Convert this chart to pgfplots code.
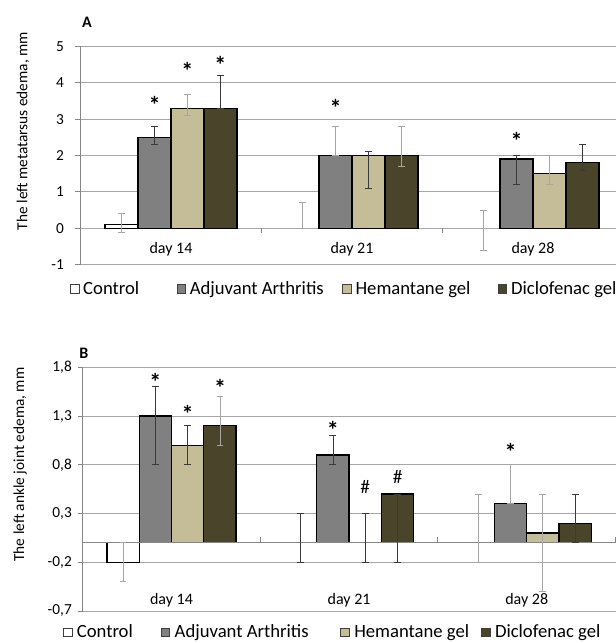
\documentclass[border=0pt]{standalone}
\usepackage{pgfplots}
\pgfplotsset{compat=1.18}
\usepackage{fontspec}
\setmainfont{Carlito}
\definecolor{cAA}{HTML}{808080}
\definecolor{cHem}{HTML}{C4BD97}
\definecolor{cDic}{HTML}{4A452A}
\definecolor{gridc}{HTML}{A6A6A6}
\definecolor{errL}{HTML}{A6A6A6}
\definecolor{errD}{HTML}{3A3A3A}
\definecolor{axisgray}{HTML}{868686}

\tikzset{
  astnode/.style={font=\bfseries\fontsize{18}{18}\selectfont, anchor=north, inner sep=0pt},
  hashnode/.style={font=\fontsize{14.5}{14.5}\selectfont, anchor=center, inner sep=0pt},
}

\pgfplotsset{
  mybase/.style={
    scale only axis, clip=false,
    xmin=-0.5, xmax=2.5,
    xtick={0,1,2}, xticklabels={day 14,day 21,day 28},
    xtick align=inside,
    x tick style={draw=none},
    ytick align=outside,
    major tick length=3.75pt,
    y tick style={axisgray, line width=0.75pt},
    axis x line*=bottom, axis y line*=left,
    axis line style={-},
    x axis line style={gridc, line width=0.75pt},
    y axis line style={axisgray, line width=0.75pt},
    ymajorgrids, grid style={gridc, line width=0.75pt},
    /pgf/number format/assume math mode=true,
    yticklabel style={font=\fontsize{11.5}{13}\selectfont, anchor=east, inner sep=0pt},
    ylabel style={anchor=center, font=\fontsize{11.5}{13}\selectfont},
    legend columns=4,
    legend image code/.code={\draw[#1, draw=black!75, line width=0.5pt] (0pt,-3.2pt) rectangle (6.4pt,3.2pt);},
  },
  mybar/.style={ybar, bar width=0.182, bar shift=#1, draw=black, line width=1pt},
  ebL/.style={forget plot, draw=none,
    error bars/.cd, y dir=both, y explicit, error mark=-,
    error bar style={draw=errL, line width=0.6pt},
    error mark options={rotate=90, draw=errL, line width=0.6pt, mark size=2.6pt}},
  ebD/.style={forget plot, draw=none,
    error bars/.cd, y dir=both, y explicit, error mark=-,
    error bar style={draw=errD, line width=0.6pt},
    error mark options={rotate=90, draw=errD, line width=0.6pt, mark size=2.6pt}},
}

\begin{document}
\begin{tikzpicture}
\useasboundingbox (0,0) rectangle (462pt,482.25pt);

% ---------------- Panel A ----------------
\begin{axis}[mybase,
  at={(60.375pt,283.725pt)}, anchor=south west,
  width=407.25pt, height=163.8pt,
  ymin=-1, ymax=5, ytick={-1,0,1,2,3,4,5},
  yticklabel style={xshift=-8.5pt},
  xticklabel style={font=\fontsize{12}{14}\selectfont, anchor=center, inner sep=0pt, yshift=11.25pt},
  ylabel={The left metatarsus edema, mm},
  ylabel style={at={(axis description cs:-0.106,0.612)}},
  legend style={at={(axis description cs:-0.0193,-0.111)}, anchor=west,
    draw=none, fill=none, inner sep=0pt, outer sep=0pt,
    font=\fontsize{14}{16}\selectfont,
    nodes={inner sep=0pt}, column sep=3pt,
    /tikz/column 2/.style={column sep=28pt},
    /tikz/column 4/.style={column sep=14pt},
    /tikz/column 6/.style={column sep=20.6pt}},
]
\addplot[mybar=-0.273, fill=white] coordinates {(0,0.1)};
\addlegendentry{Control}
\addplot[mybar=-0.091, fill=cAA] coordinates {(0,2.5) (1,2.0) (2,1.9)};
\addlegendentry{Adjuvant Arthritis}
\addplot[mybar=0.091, fill=cHem] coordinates {(0,3.3) (1,2.0) (2,1.5)};
\addlegendentry{Hemantane gel}
\addplot[mybar=0.273, fill=cDic] coordinates {(0,3.3) (1,2.0) (2,1.8)};
\addlegendentry{Diclofenac gel}

\addplot[ebL] coordinates {
  (-0.273,0.1) += (0,0.3) -= (0,0.2)
  (0.091,3.3) += (0,0.38) -= (0,0.2)
  (0.727,0) += (0,0.7) -= (0,0)
  (0.909,2.0) += (0,0.8) -= (0,0)
  (1.273,2.0) += (0,0.8) -= (0,0.3)
  (1.727,-0.05) += (0,0.55) -= (0,0.55)
  (2.091,1.5) += (0,0.5) -= (0,0.3)
};
\addplot[ebD] coordinates {
  (-0.091,2.5) += (0,0.3) -= (0,0.2)
  (0.273,3.3) += (0,0.9) -= (0,0)
  (1.091,2.0) += (0,0.1) -= (0,0.9)
  (1.909,1.9) += (0,0.1) -= (0,0.7)
  (2.273,1.8) += (0,0.5) -= (0,0.2)
};

\draw[axisgray, line width=0.75pt] (axis cs:0.5,0) -- ++(0pt,-3.75pt);
\draw[axisgray, line width=0.75pt] (axis cs:1.5,0) -- ++(0pt,-3.75pt);

\node[astnode] at (axis cs:-0.091,3.63) {*};
\node[astnode] at (axis cs:0.091,4.56) {*};
\node[astnode] at (axis cs:0.273,4.74) {*};
\node[astnode] at (axis cs:0.909,3.54) {*};
\node[astnode] at (axis cs:1.909,2.65) {*};

\node[font=\bfseries\fontsize{12}{14}\selectfont] at (axis description cs:0.012,1.111) {A};
\end{axis}

% ---------------- Panel B ----------------
\begin{axis}[mybase,
  at={(62.03pt,24pt)}, anchor=south west,
  width=399.6pt, height=182.78pt,
  ymin=-0.7, ymax=1.8, ytick={-0.7,-0.2,0.3,0.8,1.3,1.8},
  yticklabel style={xshift=-4.25pt, /pgf/number format/.cd, fixed, fixed zerofill, precision=1, use comma},
  xticklabel style={font=\fontsize{12}{14}\selectfont, anchor=center, inner sep=0pt, yshift=8.25pt},
  ylabel={The left ankle joint edema, mm},
  ylabel style={at={(axis description cs:-0.1177,0.601)}},
  legend style={at={(axis description cs:-0.037,-0.087)}, anchor=west,
    draw=none, fill=none, inner sep=0pt, outer sep=0pt,
    font=\fontsize{14}{16}\selectfont,
    nodes={inner sep=0pt}, column sep=3.5pt,
    /tikz/column 2/.style={column sep=21pt},
    /tikz/column 4/.style={column sep=23.8pt},
    /tikz/column 6/.style={column sep=9pt}},
]
\addplot[mybar=-0.273, fill=white] coordinates {(0,-0.2)};
\addlegendentry{Control}
\addplot[mybar=-0.091, fill=cAA] coordinates {(0,1.3) (1,0.9) (2,0.4)};
\addlegendentry{Adjuvant Arthritis}
\addplot[mybar=0.091, fill=cHem] coordinates {(0,1.0) (2,0.1)};
\addlegendentry{Hemantane gel}
\addplot[mybar=0.273, fill=cDic] coordinates {(0,1.2) (1,0.5) (2,0.2)};
\addlegendentry{Diclofenac gel}

\draw[axisgray, line width=0.75pt] (axis cs:-0.5,0) -- (axis cs:2.5,0);
\draw[axisgray, line width=0.75pt] (axis cs:0.5,0) -- ++(0pt,4.5pt);
\draw[axisgray, line width=0.75pt] (axis cs:1.5,0) -- ++(0pt,4.5pt);
\draw[axisgray, line width=0.75pt] (axis cs:2.5,0) -- ++(0pt,4.5pt);

\addplot[ebL] coordinates {
  (-0.273,-0.2) += (0,0.2) -= (0,0.2)
  (0.273,1.2) += (0,0.3) -= (0,0.2)
  (1.727,0) += (0,0.5) -= (0,0.2)
  (1.909,0.4) += (0,0.4) -= (0,0)
  (2.091,0.1) += (0,0.4) -= (0,0.6)
};
\addplot[ebD] coordinates {
  (-0.091,1.3) += (0,0.3) -= (0,0.5)
  (0.091,1.0) += (0,0.2) -= (0,0.2)
  (0.727,0) += (0,0.3) -= (0,0.2)
  (0.909,0.9) += (0,0.2) -= (0,0.1)
  (1.091,0) += (0,0.3) -= (0,0.2)
  (1.273,0.5) += (0,0) -= (0,0.7)
  (2.273,0.2) += (0,0.3) -= (0,0.2)
};

\node[astnode] at (axis cs:-0.091,1.74) {*};
\node[astnode] at (axis cs:0.091,1.41) {*};
\node[astnode] at (axis cs:0.273,1.68) {*};
\node[astnode] at (axis cs:0.909,1.25) {*};
\node[astnode] at (axis cs:1.909,1.02) {*};
\node[hashnode] at (axis cs:1.091,0.57) {\#};
\node[hashnode] at (axis cs:1.273,0.68) {\#};

\node[font=\bfseries\fontsize{12}{14}\selectfont] at (axis description cs:0.0024,1.0587) {B};
\end{axis}
\end{tikzpicture}
\end{document}
